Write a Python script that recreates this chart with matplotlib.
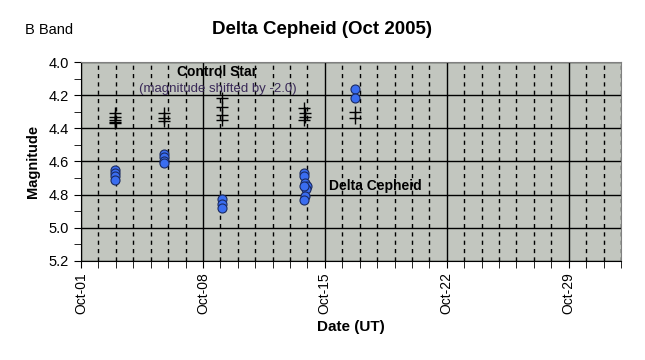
import matplotlib
matplotlib.use("Agg")
import matplotlib.pyplot as plt
import matplotlib.dates as mdates
from matplotlib.ticker import MultipleLocator, FixedLocator
import datetime as dt

plt.rcParams['font.family'] = ['Liberation Sans', 'DejaVu Sans']

# Data: days after 2005-10-01 (UT), magnitudes
cep_days = [1.95, 1.93, 1.97, 1.95,
            4.78, 4.79, 4.77, 4.78,
            8.10, 8.08, 8.09,
            12.78, 12.80, 12.87, 12.95, 12.92, 12.84, 12.80, 12.82,
            15.75, 15.75]
cep_mag = [4.65, 4.67, 4.69, 4.71,
           4.555, 4.575, 4.595, 4.61,
           4.826, 4.856, 4.88,
           4.67, 4.69, 4.73, 4.745, 4.765, 4.806, 4.83, 4.75,
           4.16, 4.22]

ctl_days = [1.95, 1.95, 1.95, 1.98, 1.93,
            4.79, 4.79, 4.79,
            8.09, 8.12, 8.09, 8.07,
            12.82, 12.88, 12.85, 12.83,
            15.75, 15.75]
ctl_mag = [4.31, 4.33, 4.35, 4.36, 4.37,
           4.31, 4.34, 4.355,
           4.22, 4.27, 4.32, 4.35,
           4.28, 4.31, 4.33, 4.35,
           4.30, 4.34]

tick_days = [1, 8, 15, 22, 29]

start = dt.datetime(2005, 10, 1)
cep_x = [start + dt.timedelta(days=d) for d in cep_days]
ctl_x = [start + dt.timedelta(days=d) for d in ctl_days]

fig = plt.figure(figsize=(6.45, 3.60), dpi=100)
ax = fig.add_axes([81/645, 1-261/360, (621-81)/645, (261-62)/360])
ax.set_facecolor('#c2c6bf')

ax.plot(ctl_x, ctl_mag, linestyle='none', marker='+', color='black',
        markersize=9, markeredgewidth=1.0, zorder=3)
ax.plot(cep_x, cep_mag, linestyle='none', marker='o', markerfacecolor='#3a6df0',
        markeredgecolor='#1a2a60', markeredgewidth=0.8, markersize=6.5, zorder=4)

ax.set_xlim(start, dt.datetime(2005, 11, 1))
ax.set_ylim(5.2, 4.0)

major_dates = [mdates.date2num(dt.datetime(2005, 10, d)) for d in tick_days]
ax.xaxis.set_major_locator(FixedLocator(major_dates))
ax.xaxis.set_minor_locator(mdates.DayLocator())
ax.xaxis.set_major_formatter(mdates.DateFormatter('Oct-%d'))
ax.yaxis.set_major_locator(MultipleLocator(0.2))
ax.yaxis.set_minor_locator(MultipleLocator(0.1))
ax.yaxis.set_major_formatter(matplotlib.ticker.FormatStrFormatter('%.1f'))

ax.grid(which='major', axis='both', color='black', linewidth=1.0, linestyle='-')
ax.grid(which='minor', axis='x', color='black', linewidth=1.0, linestyle=(0, (3, 3)))
ax.set_axisbelow(True)

ax.tick_params(axis='x', which='major', direction='out', length=5, labelrotation=90,
               labelsize=10, pad=3)
ax.tick_params(axis='x', which='minor', direction='out', length=5)
ax.tick_params(axis='y', which='major', direction='out', length=5, labelsize=10.5)
ax.tick_params(axis='y', which='minor', direction='out', length=5)

for s in ['top', 'right']:
    ax.spines[s].set_color('#808080')
for s in ['left', 'bottom']:
    ax.spines[s].set_color('black')

ax.set_xlabel('Date (UT)', fontsize=11, fontweight='bold', labelpad=4)
ax.set_ylabel('Magnitude', fontsize=10.5, fontweight='bold', labelpad=6)

fig.text(322/645, 1-30/360, 'Delta Cepheid (Oct 2005)', fontsize=13.5,
         fontweight='bold', ha='center', va='center')
fig.text(25/645, 1-30/360, 'B Band', fontsize=10.5, ha='left', va='center')

ax.text(dt.datetime(2005, 10, 6, 12), 4.06, 'Control Star', fontsize=10,
        fontweight='bold', ha='left', va='center')
ax.text(dt.datetime(2005, 10, 4, 8), 4.16, '(magnitude shifted by -2.0)', fontsize=9.5,
        color='#3a2a58', ha='left', va='center')
ax.text(dt.datetime(2005, 10, 15, 6), 4.745, 'Delta Cepheid', fontsize=10,
        fontweight='bold', ha='left', va='center')

fig.savefig('out.png', dpi=100)
